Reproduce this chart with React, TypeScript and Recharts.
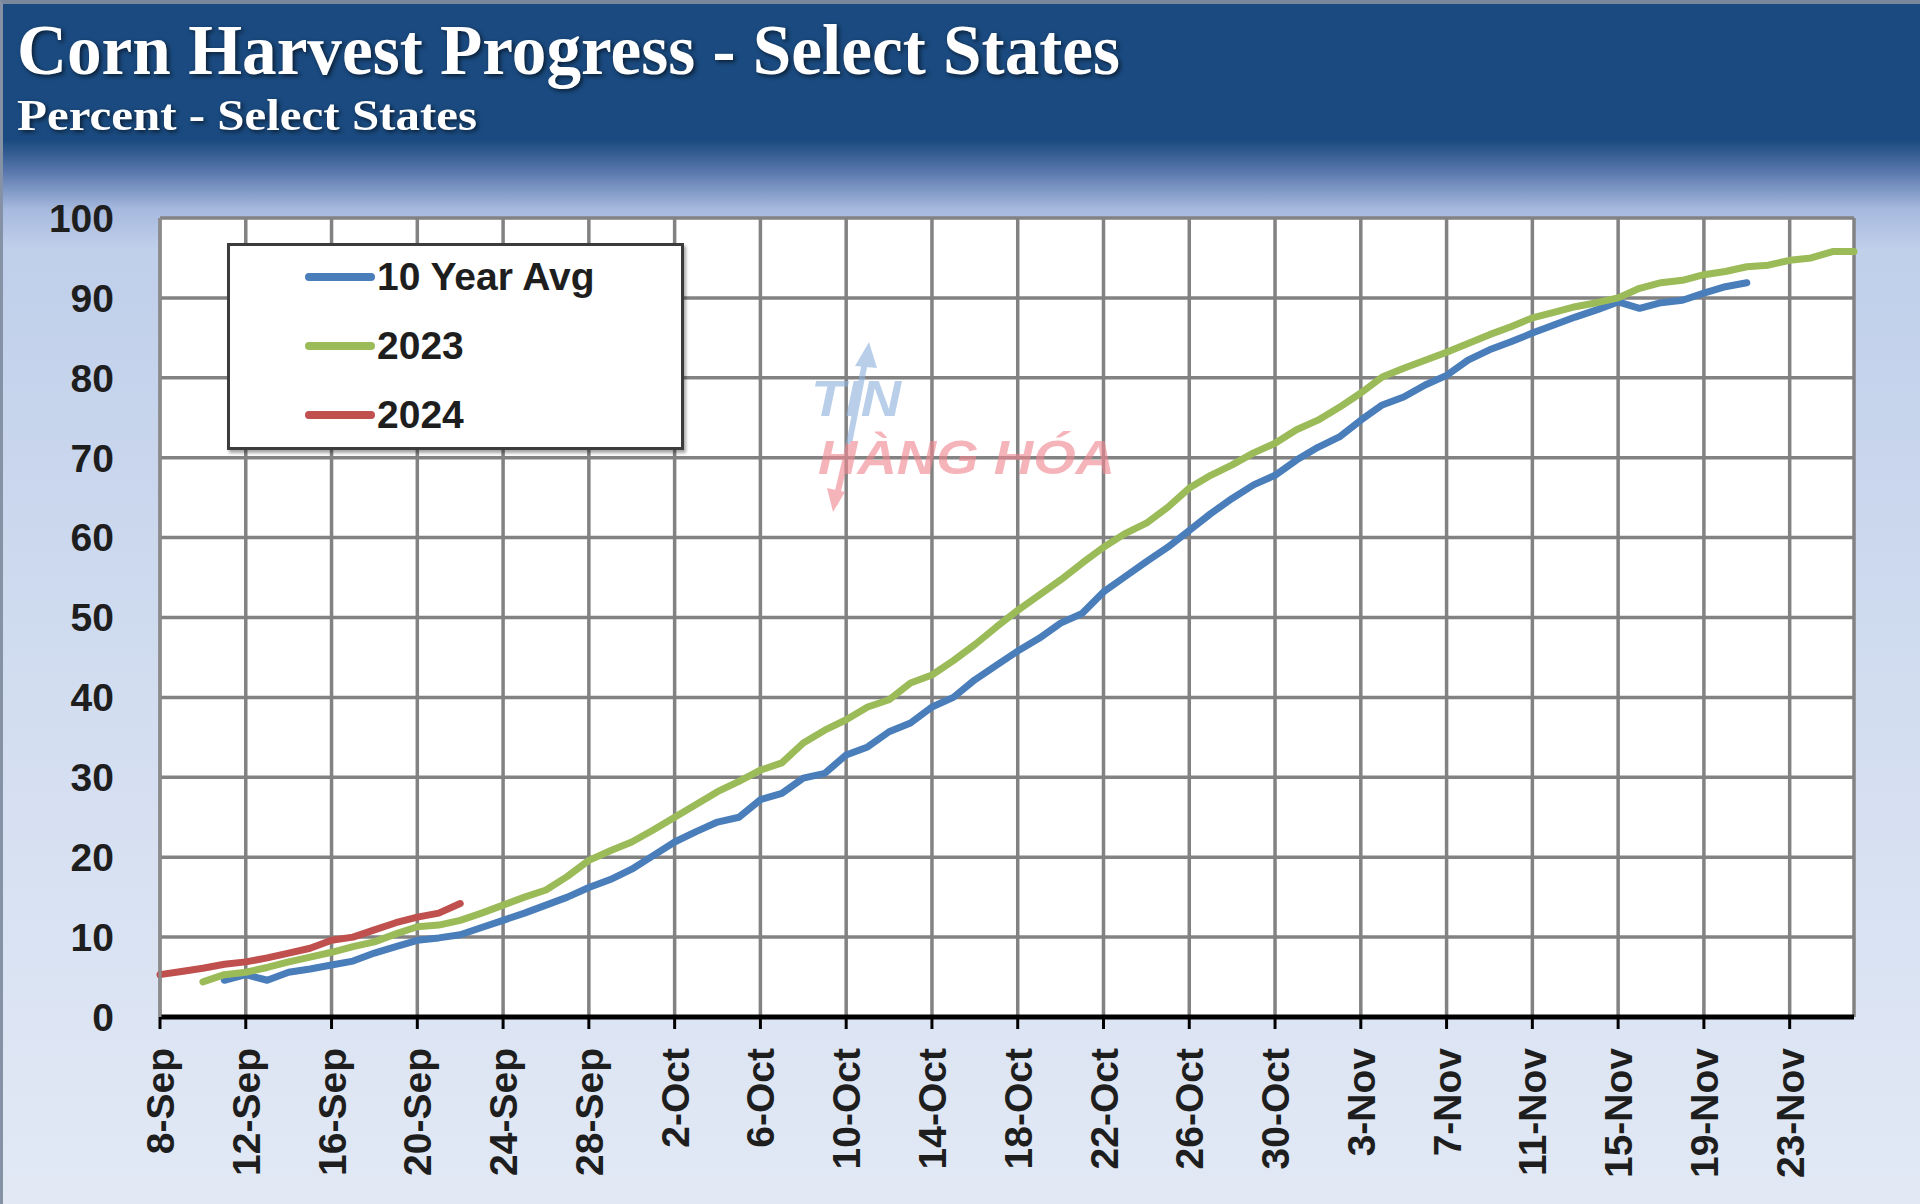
import { CartesianGrid, Line, LineChart, XAxis, YAxis } from "recharts";

// daily dates shown on the category axis (8-Sep .. 26-Nov)
const categories = [
    "8-Sep", "9-Sep", "10-Sep", "11-Sep", "12-Sep", "13-Sep", "14-Sep", "15-Sep", "16-Sep", "17-Sep",
    "18-Sep", "19-Sep", "20-Sep", "21-Sep", "22-Sep", "23-Sep", "24-Sep", "25-Sep", "26-Sep", "27-Sep",
    "28-Sep", "29-Sep", "30-Sep",
    "1-Oct", "2-Oct", "3-Oct", "4-Oct", "5-Oct", "6-Oct", "7-Oct", "8-Oct", "9-Oct", "10-Oct",
    "11-Oct", "12-Oct", "13-Oct", "14-Oct", "15-Oct", "16-Oct", "17-Oct", "18-Oct", "19-Oct", "20-Oct",
    "21-Oct", "22-Oct", "23-Oct", "24-Oct", "25-Oct", "26-Oct", "27-Oct", "28-Oct", "29-Oct", "30-Oct",
    "31-Oct",
    "1-Nov", "2-Nov", "3-Nov", "4-Nov", "5-Nov", "6-Nov", "7-Nov", "8-Nov", "9-Nov", "10-Nov",
    "11-Nov", "12-Nov", "13-Nov", "14-Nov", "15-Nov", "16-Nov", "17-Nov", "18-Nov", "19-Nov", "20-Nov",
    "21-Nov", "22-Nov", "23-Nov", "24-Nov", "25-Nov", "26-Nov",
];

const tickLabels = [
    "8-Sep", "12-Sep", "16-Sep", "20-Sep", "24-Sep", "28-Sep", "2-Oct", "6-Oct", "10-Oct", "14-Oct",
    "18-Oct", "22-Oct", "26-Oct", "30-Oct", "3-Nov", "7-Nov", "11-Nov", "15-Nov", "19-Nov", "23-Nov",
];

const yTicks = [0, 10, 20, 30, 40, 50, 60, 70, 80, 90, 100];

const avg10Year = [
    null, null, null,
    4.6, 5.3, 4.6, 5.6, 6.0, 6.5, 7.0, 8.0, 8.8, 9.6,
    9.9, 10.3, 11.2, 12.1, 13.0, 14.0, 15.0, 16.2, 17.2, 18.5,
    20.2, 21.9, 23.2, 24.4, 25.0, 27.2, 28.0, 29.9, 30.5, 32.8,
    33.8, 35.7, 36.8, 38.8, 40.0, 42.2, 44.0, 45.8, 47.4, 49.3,
    50.5, 53.2, 55.1, 57.0, 58.8, 60.9, 63.0, 64.9, 66.6, 67.8,
    69.7, 71.3, 72.6, 74.7, 76.6, 77.6, 79.1, 80.3, 82.2, 83.5,
    84.5, 85.6, 86.6, 87.6, 88.5, 89.5, 88.7, 89.4, 89.7, 90.6,
    91.4, 91.9,
    null, null, null, null, null,
];

const harvest2023 = [
    null, null,
    4.4, 5.3, 5.6, 6.2, 6.9, 7.5, 8.1, 8.8, 9.4, 10.4,
    11.3, 11.5, 12.1, 13.0, 14.0, 15.0, 15.9, 17.6, 19.6, 20.8,
    21.9, 23.4, 25.0, 26.6, 28.2, 29.5, 30.9, 31.8, 34.3, 35.9,
    37.2, 38.8, 39.7, 41.8, 42.8, 44.6, 46.6, 48.8, 50.9, 52.8,
    54.7, 56.8, 58.8, 60.5, 61.8, 63.8, 66.2, 67.8, 69.1, 70.6,
    71.8, 73.5, 74.7, 76.3, 78.1, 80.1, 81.2, 82.2, 83.2, 84.3,
    85.4, 86.4, 87.5, 88.2, 88.9, 89.4, 90.0, 91.2, 91.9, 92.2,
    92.9, 93.3, 93.9, 94.1, 94.7, 95.0, 95.8, 95.8,
];

const harvest2024 = [
    5.3, 5.7, 6.1, 6.6, 6.9, 7.4, 8.0, 8.6, 9.6, 10.0,
    10.9, 11.8, 12.5, 13.0, 14.2,
];

const series = [
    { key: "avg", name: "10 Year Avg", color: "#4a7ebb", values: avg10Year },
    { key: "y2023", name: "2023", color: "#9bbb59", values: harvest2023 },
    { key: "y2024", name: "2024", color: "#c0504d", values: harvest2024 },
];

const chartData = categories.map((date, i) => {
    const row: Record<string, string | number | null> = { date };
    series.forEach((s) => {
        row[s.key] = s.values[i] ?? null;
    });
    return row;
});

const FONT = "'Liberation Sans', Arial, sans-serif";
const TEXT_COLOR = "#1e1e1e";

function DateTick({ x, y, payload }: any) {
    return (
        <g transform={`translate(${x},${y})`}>
            <text
                transform="rotate(-90)"
                textAnchor="end"
                dy="0.36em"
                fontFamily={FONT}
                fontSize={39}
                fontWeight={700}
                fill={TEXT_COLOR}>
                {payload.value}
            </text>
        </g>
    );
}

function Header() {
    return (
        <svg
            width={1920}
            height={150}
            style={{ position: "absolute", left: 0, top: 0 }}>
            <g style={{ filter: "drop-shadow(2px 2px 2px rgba(0,0,0,0.6))" }}>
                <text
                    x={14}
                    y={70}
                    fontFamily="'Liberation Serif', 'DejaVu Serif', serif"
                    fontWeight={700}
                    fontSize={72}
                    fill="#ffffff"
                    textLength={1103}
                    lengthAdjust="spacingAndGlyphs">
                    Corn Harvest Progress - Select States
                </text>
                <text
                    x={14}
                    y={126}
                    fontFamily="'Liberation Serif', 'DejaVu Serif', serif"
                    fontWeight={700}
                    fontSize={44}
                    fill="#ffffff"
                    textLength={460}
                    lengthAdjust="spacingAndGlyphs">
                    Percent - Select States
                </text>
            </g>
        </svg>
    );
}

function LegendBox() {
    return (
        <div
            style={{
                position: "absolute",
                left: 224,
                top: 239,
                width: 457,
                height: 207,
                boxSizing: "border-box",
                border: "3px solid #3c3c3c",
                background: "#ffffff",
                boxShadow: "2px 3px 3px rgba(0,0,0,0.35)",
            }}>
            {series.map((s, i) => (
                <div
                    key={s.key}
                    style={{
                        position: "absolute",
                        left: 75,
                        top: 31 + i * 69 - 22,
                        height: 44,
                        display: "flex",
                        alignItems: "center",
                    }}>
                    <span
                        style={{
                            display: "inline-block",
                            width: 70,
                            height: 8,
                            borderRadius: 4,
                            background: s.color,
                        }}
                    />
                    <span
                        style={{
                            marginLeft: 2,
                            fontFamily: FONT,
                            fontSize: 39,
                            fontWeight: 700,
                            color: TEXT_COLOR,
                            whiteSpace: "nowrap",
                        }}>
                        {s.name}
                    </span>
                </div>
            ))}
        </div>
    );
}

function Watermark() {
    return (
        <svg
            width={1920}
            height={1204}
            style={{ position: "absolute", left: 0, top: 0, pointerEvents: "none" }}>
            <g opacity={0.62}>
                <line x1={864} y1={348} x2={846} y2={440} stroke="#8fb3dc" strokeWidth={6} />
                <polygon points="866,338 852,362 874,364" fill="#8fb3dc" />
                <line x1={846} y1={440} x2={832} y2={500} stroke="#ef8791" strokeWidth={6} />
                <polygon points="830,508 824,484 842,488" fill="#ef8791" />
                <text
                    x={808}
                    y={412}
                    fontFamily={FONT}
                    fontWeight={700}
                    fontStyle="italic"
                    fontSize={50}
                    fill="#8fb3dc"
                    textLength={90}
                    lengthAdjust="spacingAndGlyphs">
                    TIN
                </text>
                <text
                    x={815}
                    y={470}
                    fontFamily={FONT}
                    fontWeight={700}
                    fontStyle="italic"
                    fontSize={48}
                    fill="#ef8791"
                    textLength={297}
                    lengthAdjust="spacingAndGlyphs">
                    HÀNG HÓA
                </text>
            </g>
        </svg>
    );
}

export default function App() {
    return (
        <div
            style={{
                position: "absolute",
                left: 0,
                top: 0,
                width: 1920,
                height: 1204,
                overflow: "hidden",
                boxSizing: "border-box",
                borderTop: "4px solid #7b879b",
                borderLeft: "3px solid #8592a6",
                background:
                    "linear-gradient(180deg, #1a4a7f 0px, #1a4a7f 136px, #5a78ad 168px, #a6b9de 205px, #c0cfea 245px, #d2ddf0 700px, #e2e9f5 1204px)",
            }}>
            <Header />
            <LineChart
                width={1920}
                height={1204}
                data={chartData}
                margin={{ top: 218, right: 66, bottom: 0, left: 0 }}
                style={{ position: "absolute", left: -3, top: -4 }}>
                <CartesianGrid
                    fill="#ffffff"
                    stroke="#828282"
                    strokeWidth={3.5}
                />
                <XAxis
                    dataKey="date"
                    ticks={tickLabels}
                    interval={0}
                    height={187}
                    tickSize={12}
                    tickMargin={19}
                    axisLine={{ stroke: "#000000", strokeWidth: 5 }}
                    tickLine={{ stroke: "#000000", strokeWidth: 3 }}
                    tick={<DateTick />}
                />
                <YAxis
                    domain={[0, 100]}
                    ticks={yTicks}
                    width={160}
                    tickSize={0}
                    tickMargin={46}
                    tickLine={false}
                    axisLine={{ stroke: "#8c8c8c", strokeWidth: 3 }}
                    tick={{
                        fontFamily: FONT,
                        fontSize: 39,
                        fontWeight: 700,
                        fill: TEXT_COLOR,
                    }}
                />
                {series.map((s) => (
                    <Line
                        key={s.key}
                        type="linear"
                        dataKey={s.key}
                        name={s.name}
                        stroke={s.color}
                        strokeWidth={7}
                        strokeLinecap="round"
                        strokeLinejoin="round"
                        dot={false}
                        activeDot={false}
                        isAnimationActive={false}
                    />
                ))}
            </LineChart>
            <Watermark />
            <LegendBox />
        </div>
    );
}
